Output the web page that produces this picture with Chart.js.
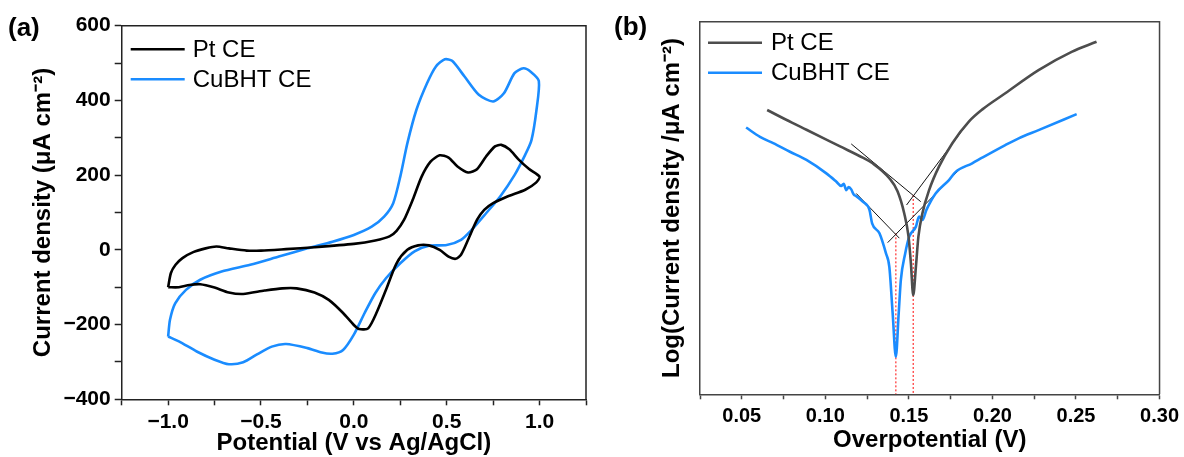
<!DOCTYPE html>
<html lang="en">
<head>
<meta charset="utf-8">
<title>CV e Tafel - Pt CE vs CuBHT CE</title>
<script src="https://cdn.jsdelivr.net/npm/chart.js@4.4.1/dist/chart.umd.min.js"></script>
<style>
    html, body { margin: 0; padding: 0; background: #fff; }
    body { width: 1184px; height: 457px; position: relative; overflow: hidden; font-family: "Liberation Sans", Arial, sans-serif; }
    .painel { position: absolute; top: 0; }
    #painelA { left: 0; width: 600px; height: 457px; }
    #painelB { left: 600px; width: 584px; height: 457px; }
    .letra { position: absolute; font-weight: bold; font-size: 26px; line-height: 26px; color: #000; }
</style>
</head>
<body>
<div class="painel" id="painelA"><canvas id="graficoCV" width="600" height="457"></canvas></div>
<div class="painel" id="painelB"><canvas id="graficoTafel" width="584" height="457"></canvas></div>
<div class="letra" style="left:8px;top:14px">(a)</div>
<div class="letra" style="left:614px;top:13px">(b)</div>

<script>
// dados (a): voltametria ciclica, potencial (V) e corrente (uA/cm2)
const potencialPt = [-1.0, -0.985, -0.96, -0.923, -0.865, -0.798, -0.74, -0.673, -0.577, -0.5, -0.365, -0.212, 0, 0.115, 0.192, 0.23, 0.27, 0.317, 0.365, 0.413, 0.462, 0.51, 0.558, 0.615, 0.663, 0.712, 0.76, 0.794, 0.837, 0.885, 0.942, 1.0, 0.981, 0.923, 0.827, 0.75, 0.702, 0.663, 0.615, 0.577, 0.548, 0.51, 0.462, 0.404, 0.346, 0.288, 0.23, 0.173, 0.125, 0.077, 0.029, 0, -0.058, -0.135, -0.212, -0.308, -0.385, -0.481, -0.596, -0.673, -0.75, -0.827, -0.885, -0.942, -1.0];
const correntePt = [-100, -62, -40, -22, -6, 4, 9, 4, -2, -2, 2, 7, 16, 25, 36, 51, 80, 134, 196, 236, 253, 247, 223, 207, 216, 250, 277, 281, 269, 243, 217, 196, 180, 161, 143, 125, 107, 80, 27, -13, -24, -18, 0, 12, 12, 0, -36, -107, -165, -210, -212, -201, -169, -134, -114, -103, -103, -109, -118, -114, -101, -92, -94, -100, -100];

const potencialCu = [-1.0, -0.99, -0.962, -0.904, -0.827, -0.712, -0.558, -0.404, -0.25, -0.115, 0, 0.096, 0.163, 0.212, 0.25, 0.288, 0.337, 0.394, 0.442, 0.49, 0.529, 0.596, 0.673, 0.75, 0.808, 0.865, 0.913, 0.952, 0.996, 0.983, 0.956, 0.923, 0.865, 0.788, 0.712, 0.635, 0.577, 0.5, 0.404, 0.327, 0.25, 0.173, 0.115, 0.058, 0, -0.058, -0.115, -0.173, -0.25, -0.365, -0.442, -0.519, -0.596, -0.673, -0.75, -0.846, -0.942, -1.0];
const correnteCu = [-232, -187, -143, -107, -80, -58, -40, -18, 4, 22, 40, 62, 89, 125, 196, 285, 375, 446, 491, 510, 506, 464, 415, 397, 419, 473, 486, 477, 452, 373, 293, 255, 200, 143, 98, 54, 27, 13, 11, -4, -36, -76, -116, -169, -227, -268, -278, -275, -263, -252, -259, -279, -301, -306, -294, -272, -245, -232];

// dados (b): curvas de tafel, sobrepotencial (V) e log da corrente (unidade arbitraria)
const sobrepotencialPt = [0.0652, 0.080, 0.0887, 0.100, 0.1085, 0.1224, 0.1283, 0.1383, 0.1432, 0.1472, 0.1498, 0.1512, 0.1526, 0.1542, 0.1557, 0.1581, 0.1621, 0.168, 0.176, 0.1859, 0.1938, 0.2077, 0.2276, 0.2474, 0.2623];
const logPt = [76.3, 72.9, 71.0, 68.5, 66.6, 63.5, 62.0, 58.0, 54.5, 48.6, 42.3, 35.2, 26.6, 34.2, 42.3, 48.6, 54.8, 61.1, 67.4, 73.2, 76.4, 80.8, 87.0, 91.9, 94.6];

const sobrepotencialCu = [0.0526, 0.0609, 0.0688, 0.0788, 0.0887, 0.1006, 0.1065, 0.1095, 0.1110, 0.1125, 0.1140, 0.1155, 0.1170, 0.1185, 0.1224, 0.1264, 0.128, 0.1324, 0.1363, 0.1383, 0.1403, 0.1422, 0.1439, 0.1452, 0.1478, 0.1502, 0.1542, 0.1561, 0.1581, 0.1605, 0.166, 0.174, 0.178, 0.1879, 0.1938, 0.2077, 0.2157, 0.2276, 0.2504];
const logCu = [71.6, 69.1, 67.4, 65.1, 62.9, 59.3, 57.1, 55.9, 56.5, 54.8, 55.6, 55.0, 53.6, 53.2, 51.7, 49.5, 45.9, 43.2, 37.8, 34.2, 21.7, 10.1, 21.7, 30.7, 37.8, 42.3, 45.0, 47.7, 46.8, 49.5, 53.9, 57.5, 59.7, 62.0, 63.5, 66.9, 68.7, 70.9, 75.2];

// retas de tafel (extremos) e potenciais de corrosao
const tangentePtCatodicaX = [0.1155, 0.1571];
const tangentePtCatodicaY = [67.2, 51.7];
const tangentePtAnodicaX = [0.1486, 0.1869];
const tangentePtAnodicaY = [50.8, 73.8];
const tangenteCuCatodicaX = [0.1185, 0.1443];
const tangenteCuCatodicaY = [53.9, 41.9];
const tangenteCuAnodicaX = [0.1373, 0.1795];
const tangenteCuAnodicaY = [40.7, 60.0];
const ecorrX = [0.1422, 0.1526];
const ecorrTopo = [43.2, 53.5];

// rotulos dos eixos
const rotulosCV = { x: "Potential (V vs Ag/AgCl)", y: "Current density (\u03bcA cm\u207b\u00b2)" };
const rotulosTafel = { x: "Overpotential (V)", y: "Log(Current density /\u03bcA cm\u207b\u00b2)" };

const FAMILIA = "'Liberation Sans', Arial, sans-serif";
const AZUL = "#1a8cff";

/**
 * junta dois arrays em pontos {x, y}
 */
function pontos(xs, ys) {
    return xs.map((x, i) => ({ x, y: ys[i] }));
}

// troca o hifen pelo sinal de menos
function menos(texto) {
    return texto.replace("-", "\u2212");
}

// moldura: lados de cima e da direita
const pluginMoldura = {
    id: "moldura",
    afterDraw(chart, args, opts) {
        const { ctx, chartArea: { left, top, right, bottom } } = chart;
        ctx.save();
        ctx.strokeStyle = opts.cor;
        ctx.lineWidth = opts.largura;
        ctx.beginPath();
        ctx.moveTo(left, top);
        ctx.lineTo(right, top);
        ctx.lineTo(right, bottom);
        ctx.stroke();
        ctx.restore();
    },
};

// legenda desenhada dentro da area do grafico
const pluginLegenda = {
    id: "legendaInterna",
    afterDraw(chart, args, opts) {
        const { ctx, chartArea } = chart;
        const x0 = chartArea.left + opts.dx;
        let y = chartArea.top + opts.dy;
        ctx.save();
        ctx.font = "24px " + FAMILIA;
        ctx.textBaseline = "middle";
        chart.data.datasets.forEach(ds => {
            if (!ds.naLegenda) return;
            ctx.strokeStyle = ds.borderColor;
            ctx.lineWidth = ds.borderWidth;
            ctx.beginPath();
            ctx.moveTo(x0, y);
            ctx.lineTo(x0 + opts.comprimento, y);
            ctx.stroke();
            ctx.fillStyle = "#000";
            ctx.fillText(ds.label, x0 + opts.comprimento + opts.folga, y + 1);
            y += opts.passo;
        });
        ctx.restore();
    },
};

// grafico (a): voltametria ciclica
new Chart(document.getElementById("graficoCV").getContext("2d"), {
    type: "scatter",
    data: {
        datasets: [
            { label: "Pt CE", naLegenda: true, data: pontos(potencialPt, correntePt), showLine: true, borderColor: "#000", borderWidth: 2.6, pointRadius: 0, tension: 0.25 },
            { label: "CuBHT CE", naLegenda: true, data: pontos(potencialCu, correnteCu), showLine: true, borderColor: AZUL, borderWidth: 2.6, pointRadius: 0, tension: 0.25 },
        ],
    },
    options: {
        responsive: false,
        animation: false,
        events: [],
        layout: { padding: { left: 0, top: 25.7, right: 14, bottom: 0 } },
        plugins: {
            legend: { display: false },
            tooltip: { enabled: false },
            moldura: { cor: "#222", largura: 1.5 },
            legendaInterna: { dx: 9, dy: 23.6, passo: 30, comprimento: 54, folga: 8 },
        },
        scales: {
            x: {
                type: "linear", min: -1.25, max: 1.25,
                ticks: {
                    stepSize: 0.25, maxTicksLimit: 20, autoSkip: false, maxRotation: 0, padding: 4, color: "#000",
                    font: { family: FAMILIA, size: 21, weight: "bold" },
                    callback: v => Math.round(v / 0.25) % 2 === 0 ? menos(v.toFixed(1)) : "",
                },
                grid: { display: true, drawOnChartArea: false, drawTicks: true, tickLength: 6, tickWidth: 1.5, tickColor: "#222" },
                border: { display: true, color: "#222", width: 1.5 },
                title: { display: true, text: rotulosCV.x, color: "#000", font: { family: FAMILIA, size: 24, weight: "bold", lineHeight: 1.15 }, padding: { top: 0, bottom: 0 } },
                afterFit: escala => { escala.height = 57.7; },
            },
            y: {
                type: "linear", min: -400, max: 600,
                ticks: {
                    stepSize: 100, maxTicksLimit: 20, autoSkip: false, padding: 4, color: "#000",
                    font: { family: FAMILIA, size: 21, weight: "bold" },
                    callback: v => Math.round(v / 100) % 2 === 0 ? menos(String(v)) : "",
                },
                grid: { display: true, drawOnChartArea: false, drawTicks: true, tickLength: 7, tickWidth: 1.5, tickColor: "#222" },
                border: { display: true, color: "#222", width: 1.5 },
                title: { display: true, text: rotulosCV.y, color: "#000", font: { family: FAMILIA, size: 24, weight: "bold", lineHeight: 1.15 }, padding: { top: 29.2, bottom: 0 } },
                afterFit: escala => { escala.width = 121.7; },
            },
        },
    },
    plugins: [pluginMoldura, pluginLegenda],
});

// grafico (b): curvas de tafel
const estiloReta = { showLine: true, borderColor: "#111", borderWidth: 1, pointRadius: 0, tension: 0 };
const estiloEcorr = { showLine: true, borderColor: "#ff3030", borderWidth: 1.2, borderDash: [2, 2], pointRadius: 0, tension: 0 };

new Chart(document.getElementById("graficoTafel").getContext("2d"), {
    type: "scatter",
    data: {
        datasets: [
            { label: "Pt CE", naLegenda: true, data: pontos(sobrepotencialPt, logPt), showLine: true, borderColor: "#4d4d4d", borderWidth: 2.6, pointRadius: 0, tension: 0.4, cubicInterpolationMode: "monotone" },
            { label: "CuBHT CE", naLegenda: true, data: pontos(sobrepotencialCu, logCu), showLine: true, borderColor: AZUL, borderWidth: 2.6, pointRadius: 0, tension: 0.4, cubicInterpolationMode: "monotone" },
            { label: "tafel Pt catodica", data: pontos(tangentePtCatodicaX, tangentePtCatodicaY), ...estiloReta },
            { label: "tafel Pt anodica", data: pontos(tangentePtAnodicaX, tangentePtAnodicaY), ...estiloReta },
            { label: "tafel Cu catodica", data: pontos(tangenteCuCatodicaX, tangenteCuCatodicaY), ...estiloReta },
            { label: "tafel Cu anodica", data: pontos(tangenteCuAnodicaX, tangenteCuAnodicaY), ...estiloReta },
            { label: "Ecorr Cu", data: pontos([ecorrX[0], ecorrX[0]], [ecorrTopo[0], 0]), ...estiloEcorr },
            { label: "Ecorr Pt", data: pontos([ecorrX[1], ecorrX[1]], [ecorrTopo[1], 0]), ...estiloEcorr },
        ],
    },
    options: {
        responsive: false,
        animation: false,
        events: [],
        layout: { padding: { left: 0, top: 21.7, right: 22.3, bottom: 0 } },
        plugins: {
            legend: { display: false },
            tooltip: { enabled: false },
            moldura: { cor: "#444", largura: 1.5 },
            legendaInterna: { dx: 8, dy: 21, passo: 30, comprimento: 54, folga: 9 },
        },
        scales: {
            x: {
                type: "linear", min: 0.025, max: 0.30,
                ticks: {
                    stepSize: 0.025, maxTicksLimit: 20, autoSkip: false, maxRotation: 0, padding: 5, color: "#000",
                    font: { family: FAMILIA, size: 20, weight: "bold" },
                    callback: v => Math.round(v / 0.025) % 2 === 0 ? v.toFixed(2) : "",
                },
                grid: { display: true, drawOnChartArea: false, drawTicks: true, tickLength: 5, tickWidth: 1.5, tickColor: "#444" },
                border: { display: true, color: "#444", width: 1.5 },
                title: { display: true, text: rotulosTafel.x, color: "#000", font: { family: FAMILIA, size: 24, weight: "bold", lineHeight: 1.15 }, padding: { top: 0, bottom: 3 } },
                afterFit: escala => { escala.height = 62.7; },
            },
            y: {
                type: "linear", min: 0, max: 100,
                ticks: { display: false },
                grid: { display: false },
                border: { display: true, color: "#444", width: 1.5 },
                title: { display: true, text: rotulosTafel.y, color: "#000", font: { family: FAMILIA, size: 24, weight: "bold", lineHeight: 1.15 }, padding: { top: 59, bottom: 0 } },
                afterFit: escala => { escala.width = 100; },
            },
        },
    },
    plugins: [pluginMoldura, pluginLegenda],
});
</script>
</body>
</html>
